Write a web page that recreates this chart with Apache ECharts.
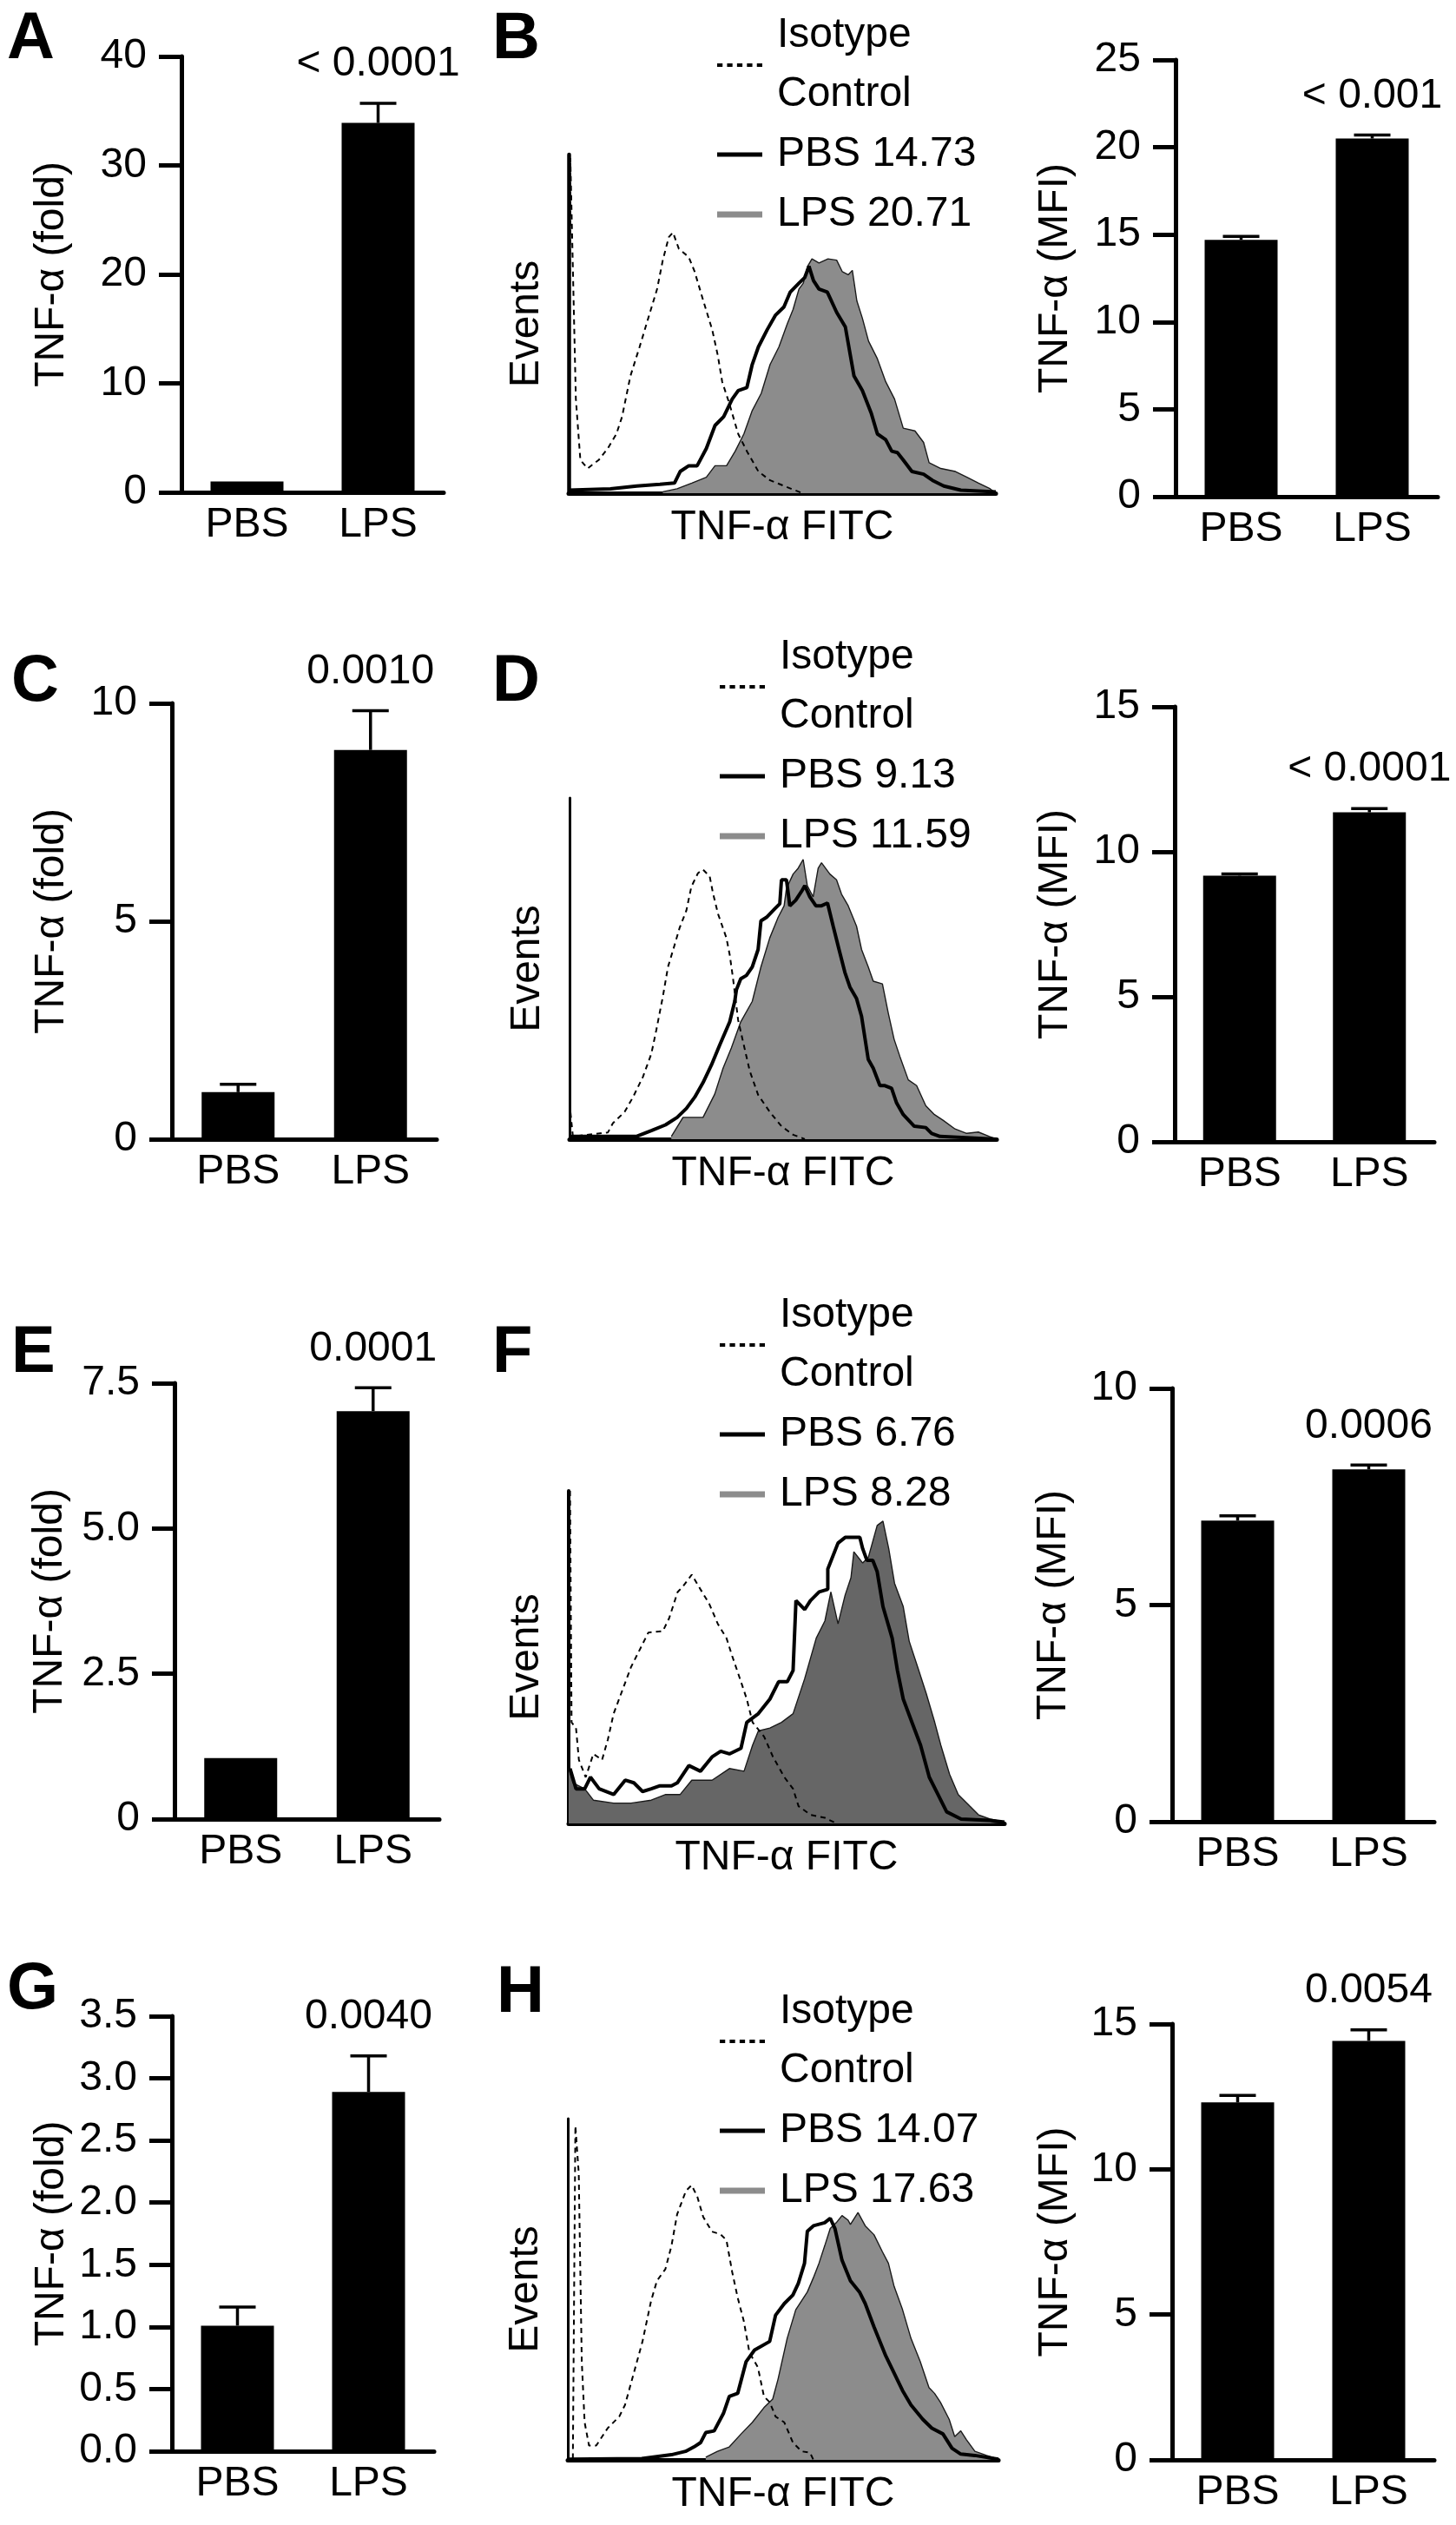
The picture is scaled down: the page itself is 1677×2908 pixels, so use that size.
<!DOCTYPE html>
<html>
<head>
<meta charset="utf-8">
<script src="https://cdn.jsdelivr.net/npm/echarts@6/dist/echarts.min.js"></script>
<style>
html, body { margin: 0; padding: 0; background: #fff; }
#main { width: 1677px; height: 2908px; }
</style>
</head>
<body>
<div id="main"></div>
<script>
var FONT = '"Liberation Sans", Arial, sans-serif';
var categories = ['PBS', 'LPS'];

// fold change panels (A, C, E, G): [PBS, LPS]
var foldA = [1.0, 33.9],  foldAErr = [0, 1.8];
var foldC = [1.08, 8.93], foldCErr = [0.18, 0.9];
var foldE = [1.05, 7.02], foldEErr = [0, 0.4];
var foldG = [1.01, 2.89], foldGErr = [0.15, 0.29];

// MFI panels (B, D, F, H): [PBS, LPS]
var mfiB = [14.7, 20.5],  mfiBErr = [0.2, 0.2];
var mfiD = [9.18, 11.36], mfiDErr = [0.06, 0.13];
var mfiF = [6.95, 8.13],  mfiFErr = [0.11, 0.1];
var mfiH = [12.3, 14.42], mfiHErr = [0.24, 0.38];

var pFold = ['< 0.0001', '0.0010', '0.0001', '0.0040'];
var pMfi = ['< 0.001', '< 0.0001', '0.0006', '0.0054'];

// tick labels
var ticksA = ['0', '10', '20', '30', '40'];
var ticksC = ['0', '5', '10'];
var ticksE = ['0', '2.5', '5.0', '7.5'];
var ticksG = ['0.0', '0.5', '1.0', '1.5', '2.0', '2.5', '3.0', '3.5'];
var ticksB = ['0', '5', '10', '15', '20', '25'];
var ticksD = ['0', '5', '10', '15'];
var ticksF = ['0', '5', '10'];
var ticksH = ['0', '5', '10', '15'];

// legend texts
var legendB = ['Isotype\nControl', 'PBS 14.73', 'LPS 20.71'];
var legendD = ['Isotype\nControl ', 'PBS 9.13', 'LPS 11.59'];
var legendF = ['Isotype\nControl  ', 'PBS 6.76', 'LPS 8.28'];
var legendH = ['Isotype\nControl   ', 'PBS 14.07', 'LPS 17.63'];

// histograms: [channel (0-256), % of max events]
var isoB = [[0,0],[1,99],[4.3,27.8],[7,9.8],[11.3,7.3],[18,9.8],[23.4,13.2],[28.6,17.5],[32,22.6],[37,34.6],[42.5,43.2],[47.7,51.7],[53,60.3],[56.4,68.8],[60,75.6],[62.5,77],[66,72.2],[72,69.7],[75.5,65.4],[80.7,56.8],[86,48.3],[89.4,40.6],[92,32.9],[96,26.9],[101.6,17.5],[106.8,12.4],[113.7,6.4],[120.7,3.8],[129.3,2.1],[138,0.4],[140,0]];
var pbsB = [[0,0.9],[25,1.3],[40.8,2.1],[54.7,2.6],[63.4,3],[66.8,6.4],[72,8.1],[77,8.1],[82.5,13.2],[87.7,20],[92.9,22.6],[98,27.8],[101.6,30.3],[106.8,31.2],[110,38],[113.7,43.2],[119,48.3],[124,52.6],[129,55],[132.8,59.4],[138,62],[141.5,63.7],[144,67],[146.7,62.8],[150,60.3],[155,59.4],[160.6,53.4],[165.8,49.1],[171,34.6],[176,30.3],[181.4,23.5],[185,17.5],[190,15.8],[193.6,12.4],[197,12],[200.5,9.8],[205.7,6.4],[212.7,5.6],[218,3.8],[224.8,2.1],[235,0.9],[256,0.4]];
var lpsB = [[56.4,0.4],[65,1.3],[73.8,3],[82.5,4.7],[87.7,8.1],[94.6,8.1],[99.8,12.4],[105,17.5],[110,24.4],[115.4,29.5],[120.7,38],[126,43.2],[131,50],[134.5,54.3],[138,60.3],[140.6,62],[143.2,67],[145.8,69.2],[150,68],[155.4,69.2],[160.6,68.8],[164,65.4],[167.5,64.5],[170,65.8],[172.7,56.8],[176,51.7],[179.7,44.9],[185,39.7],[190,32.9],[195.3,27.8],[200.5,19.2],[207.5,18.4],[212.7,15],[216,9],[223,7.3],[231.8,6.4],[238.7,4.7],[245.6,3],[252.6,1.3],[256,0]];

var isoD = [[0,10.6],[2,0.8],[23,2],[26,4.7],[33,8],[38,12.3],[44,18.3],[49,25],[52,32],[56,42],[59,50.5],[63,57],[66,62],[70,67],[73,74],[77,78],[80,79],[84,77],[86,72],[89,66],[94,59],[96,54],[98,47],[101,35],[104,28.5],[108,20],[113,13],[120,8],[127,3.8],[134,1.3],[139,0.4],[141,0]];
var pbsD = [[0,0.8],[40,0.8],[49,2.5],[57.5,4.2],[64.5,6.4],[70,9],[75,12.3],[80,16.6],[85,21.7],[90,27.6],[96,34.4],[99,40.4],[100,43.8],[102.6,47],[106,48],[109.5,50.5],[113,55.6],[114.7,64],[118,65],[123,67.5],[126,69],[127,76],[130,76],[132,68.4],[135.5,70],[139,72.6],[141,74.3],[144,71],[147.6,68.4],[151,68.4],[154.6,69.2],[158,62.4],[161.5,55.6],[165,48.9],[168,44.6],[172,41.2],[175,36],[179,23.4],[182,20.8],[186,15.7],[189,15.7],[193,14.9],[196,10.6],[200,7.2],[206.6,3.8],[213.5,3.4],[217,1.7],[222,0.8],[256,0]];
var lpsD = [[61,0.8],[68,6.4],[80,6.4],[87,13.2],[92,20.8],[97,26.8],[102.6,34.4],[109.5,40.4],[114.7,50.5],[120,59],[125,65],[128.6,68.4],[130,73.5],[134,77.7],[137,79.4],[140,82],[142.5,74.3],[146,71],[149,79.4],[151,81],[156,77.7],[160,76],[163,71.8],[167,68.4],[172,62.4],[175,55.6],[179,50.5],[182,46.3],[187.5,45.5],[191,37],[194.5,29.3],[198,24.2],[203,17.4],[208,15.7],[213.5,9.8],[218.7,7.2],[224,5.5],[231,3],[238,1.7],[245,2.1],[251.6,0.8],[256,0]];

var isoF = [[0.8,100],[1.7,30.4],[4.3,28.7],[6,19.1],[10,13.9],[14.5,20.9],[19.6,19.1],[23,25.2],[26.4,33],[31.5,40],[36.6,47],[41.7,52.2],[46.8,57.4],[55.3,57.8],[59,61.7],[64,69.6],[67.2,71.3],[72.3,74.8],[77.4,70.4],[82.5,66.1],[87.6,60],[92.7,55.7],[96,50.4],[101.2,42.6],[104.6,37.4],[108,30.4],[114.8,26.1],[120,20],[126.7,13.9],[131.8,10.4],[135,5.2],[142,2.6],[150.5,1.7],[155.6,0.4],[157,0]];
var pbsF = [[0.8,16.5],[4.3,10.4],[9.4,10.4],[12.8,13.9],[17.9,10.4],[26.4,8.7],[33.2,13],[38.3,12.2],[43.4,9.6],[48.5,10.4],[53.6,11.3],[60.4,11.3],[63.8,12.2],[70.6,17.4],[77.4,15.7],[84.2,20],[89.3,21.7],[94.4,20.9],[101.2,22.6],[104.6,30.4],[111.4,33],[118.2,37.4],[123.3,42.6],[128.4,42.6],[131.8,46],[133.5,67],[138.6,64.3],[142,67],[147.1,69.6],[152.2,70.4],[152.2,76.5],[158.2,84.3],[162.4,86],[171,86],[172.7,82.6],[175.2,79.1],[178.6,79.1],[181.2,75.7],[184.6,65.2],[190,55.7],[193.1,46],[196.5,37.4],[201.6,30.4],[206.7,23.5],[211.8,13.9],[216.9,8.7],[222,3.5],[230.5,1.3],[247.5,0.9],[256,0.4]];
var lpsF = [[0,16.5],[2.5,12.2],[9.4,10.4],[14.5,7],[26.4,6.1],[36.6,6.1],[48.5,7],[57,8.7],[65.5,8.7],[72.3,13],[84.2,13],[94.4,16.5],[103,15.7],[108,23.5],[111.4,27.8],[118.2,28.7],[125,30.4],[131.8,33],[138.6,43.5],[145.4,55.7],[150.5,60.9],[154,69.6],[158.2,60],[162.4,68.7],[165.8,73.9],[167.5,81.7],[172.7,78.3],[176,80],[181.2,89.6],[184.6,90.9],[188,82.6],[191.4,72.2],[196.5,65.2],[200,54.8],[205,47],[210,39.1],[215,30.4],[218.6,23.5],[223.7,14.8],[228.8,8.7],[235.6,5.2],[240.7,2.6],[247.5,1.3],[256,0.4]];

var isoH = [[3,0.4],[4.5,97.9],[6.5,84],[8.3,28.8],[10,11],[12.6,4.2],[16.9,4.2],[23.7,9.3],[30.6,12.7],[34,16.1],[39.2,25.4],[44.4,34.7],[49.5,46.6],[53,52.5],[58,55.9],[61.6,62.7],[65,72],[70.2,78.8],[73.6,80.5],[77,77.1],[80.5,71.2],[85.7,66.9],[90.8,66.1],[94.3,64.4],[97.7,55.1],[101,47.5],[104.6,40.7],[108,31.4],[113,27.1],[116.6,18.6],[120,16.9],[123.5,12.7],[128.7,11],[133.8,5.1],[139,2.5],[144,2.1],[146,0]];
var pbsH = [[0,0.2],[44,0.4],[61.6,1.5],[70,2.5],[75,3.8],[79,5.1],[82,8],[87,8.5],[92.5,13.6],[96,18.6],[101,19.5],[106,28.8],[111,32.2],[120,34.7],[123.5,42.4],[128.7,45.8],[133.8,48.3],[137,51.7],[140.7,57.6],[142.4,67],[146,68.6],[152.7,69.5],[156,70.8],[158.8,67.8],[163,58.5],[168,52.5],[173.4,49.2],[176.8,45.8],[182,39],[189,30.5],[194,25.4],[199,20.3],[204,16.1],[211,11.9],[216.4,9.3],[223,7.6],[228.4,3.4],[233.6,1.7],[242,1.3],[256,0.2]];
var lpsH = [[82,0.8],[89,2.5],[96,3.8],[103,7.6],[109.7,11],[116.6,15.3],[121.8,17.8],[125,23.7],[130.4,35.6],[135.5,44],[142.4,49.2],[146,53.4],[149.3,57.6],[152.7,62.7],[156,67.8],[159.6,69.5],[163,71.6],[166.5,70.3],[168,69],[172.5,72.5],[176.8,68.6],[182,66],[187,61],[190.6,57.6],[194,50.8],[199,44],[204,35.6],[209.5,28.8],[214.7,21.2],[218,19.5],[221.5,16.9],[226.7,11.9],[230,6.8],[233.6,8.5],[237,5.9],[242,2.5],[249,1.3],[256,0.2]];

// legend sample icons
var ICON_DOT = 'path://M0,0H6V4H0ZM11,0H17V4H11ZM22,0H28V4H22ZM33,0H39V4H33ZM44,0H50V4H44Z';
var ICON_PBS = 'path://M0,0H52V5H0Z';
var ICON_LPS = 'path://M0,0H52V7H0Z';

var grids = [], xAxes = [], yAxes = [], series = [], titles = [], legends = [];

function letter(txt, x, y) {
    titles.push({ text: txt, left: x, top: y, padding: 0,
        textStyle: { fontFamily: FONT, fontSize: 76, fontWeight: 'bold', color: '#000' } });
}

function errRenderer(pText) {
    return function (params, api) {
        var i = api.value(0), m = api.value(1), e = api.value(2);
        var p0 = api.coord([i, m]), p1 = api.coord([i, m + e]);
        var st = { stroke: '#000', lineWidth: 3.5 };
        var kids = [];
        if (e > 0) {
            kids.push({ type: 'line', shape: { x1: p0[0], y1: p0[1], x2: p1[0], y2: p1[1] }, style: st });
            kids.push({ type: 'line', shape: { x1: p1[0] - 21, y1: p1[1], x2: p1[0] + 21, y2: p1[1] }, style: st });
        }
        if (i === 1) {
            kids.push({ type: 'text', x: p1[0], y: p1[1] - 21,
                style: { text: pText, fontFamily: FONT, fontSize: 48, fill: '#000', align: 'center', verticalAlign: 'bottom' } });
        }
        return { type: 'group', children: kids };
    };
}

function barPanel(box, vals, errs, ticks, yName, nameGap, pText) {
    var gi = grids.length;
    grids.push({ left: box[0], top: box[1], width: box[2], height: box[3], containLabel: false });
    var step = parseFloat(ticks[1]) - parseFloat(ticks[0]);
    xAxes.push({
        type: 'category', gridIndex: gi, data: categories,
        axisLine: { lineStyle: { color: '#000', width: 5 } },
        axisTick: { show: false },
        axisLabel: { fontFamily: FONT, fontSize: 48, color: '#000', margin: 14, interval: 0 }
    });
    yAxes.push({
        type: 'value', gridIndex: gi, min: 0, max: parseFloat(ticks[ticks.length - 1]), interval: step,
        axisLine: { show: true, lineStyle: { color: '#000', width: 5 } },
        axisTick: { show: true, length: 26, lineStyle: { color: '#000', width: 5 } },
        axisLabel: { fontFamily: FONT, fontSize: 48, color: '#000', margin: 40,
            showMinLabel: true, showMaxLabel: true,
            formatter: function (v) {
                for (var k = 0; k < ticks.length; k++) {
                    if (Math.abs(parseFloat(ticks[k]) - v) < 1e-6) return ticks[k];
                }
                return '';
            } },
        splitLine: { show: false },
        name: yName, nameLocation: 'middle', nameGap: nameGap, nameRotate: 90,
        nameTextStyle: { fontFamily: FONT, fontSize: 48, color: '#000' }
    });
    series.push({
        type: 'bar', xAxisIndex: gi, yAxisIndex: gi, data: vals, barWidth: 84,
        itemStyle: { color: '#000' }, silent: true, z: 2
    });
    series.push({
        type: 'custom', xAxisIndex: gi, yAxisIndex: gi, z: 3, silent: true,
        data: vals.map(function (v, i) { return [i, v, errs[i]]; }),
        encode: { x: 0, y: 1 },
        renderItem: errRenderer(pText)
    });
}

function histPanel(box, iso, pbs, lps, names, fill, yLineW, legendPos) {
    var gi = grids.length;
    grids.push({ left: box[0], top: box[1], width: box[2], height: box[3], containLabel: false });
    xAxes.push({
        type: 'value', gridIndex: gi, min: 0, max: 256,
        axisLine: { show: true, onZero: false, lineStyle: { color: '#000', width: 5 } },
        axisTick: { show: false }, axisLabel: { show: false }, splitLine: { show: false },
        name: 'TNF-α FITC', nameLocation: 'middle', nameGap: 16,
        nameTextStyle: { fontFamily: FONT, fontSize: 48, color: '#000', verticalAlign: 'top' }
    });
    yAxes.push({
        type: 'value', gridIndex: gi, min: 0, max: 100,
        axisLine: { show: true, onZero: false, lineStyle: { color: '#000', width: yLineW } },
        axisTick: { show: false }, axisLabel: { show: false }, splitLine: { show: false },
        name: 'Events', nameLocation: 'middle', nameGap: 24, nameRotate: 90,
        nameTextStyle: { fontFamily: FONT, fontSize: 48, color: '#000' }
    });
    series.push({
        type: 'line', name: names[2], xAxisIndex: gi, yAxisIndex: gi, data: lps,
        symbol: 'none', showSymbol: false, silent: true, z: 2,
        lineStyle: { color: '#1a1a1a', width: 1.4 },
        itemStyle: { color: fill },
        areaStyle: { color: fill, opacity: 1 }
    });
    series.push({
        type: 'line', name: names[1], xAxisIndex: gi, yAxisIndex: gi, data: pbs,
        symbol: 'none', showSymbol: false, silent: true, z: 3,
        lineStyle: { color: '#000', width: 4 }, itemStyle: { color: '#000' }
    });
    series.push({
        type: 'line', name: names[0], xAxisIndex: gi, yAxisIndex: gi, data: iso,
        symbol: 'none', showSymbol: false, silent: true, z: 4,
        lineStyle: { color: '#000', width: 2, type: [6, 5] }, itemStyle: { color: '#000' }
    });
    legends.push({
        orient: 'vertical', left: legendPos[0], top: legendPos[1], padding: 0,
        itemWidth: 52, itemHeight: 20, itemGap: 1, selectedMode: false,
        symbolKeepAspect: true,
        textStyle: { fontFamily: FONT, fontSize: 48, lineHeight: 68, color: '#000', padding: [0, 0, 0, 12] },
        data: [
            { name: names[0], icon: ICON_DOT, itemStyle: { color: '#000' } },
            { name: names[1], icon: ICON_PBS, itemStyle: { color: '#000' } },
            { name: names[2], icon: ICON_LPS, itemStyle: { color: '#8c8c8c' } }
        ]
    });
}

// row 1
letter('A', 8, 8);
letter('B', 567, 8);
barPanel([209, 65, 302, 502], foldA, foldAErr, ticksA, 'TNF-α (fold)', 125, pFold[0]);
histPanel([655, 178, 492, 390], isoB, pbsB, lpsB, legendB, '#8c8c8c', 4.5, [826, 7]);
barPanel([1354, 69, 302, 503], mfiB, mfiBErr, ticksB, 'TNF-α (MFI)', 114, pMfi[0]);

// row 2
letter('C', 13, 748);
letter('D', 567, 748);
barPanel([198, 810, 305, 502], foldC, foldCErr, ticksC, 'TNF-α (fold)', 114, pFold[1]);
histPanel([656, 919, 492, 393], isoD, pbsD, lpsD, legendD, '#8c8c8c', 3, [829, 723]);
barPanel([1353, 814, 299, 501], mfiD, mfiDErr, ticksD, 'TNF-α (MFI)', 113, pMfi[1]);

// row 3
letter('E', 13, 1521);
letter('F', 567, 1521);
barPanel([201, 1593, 305, 502], foldE, foldEErr, ticksE, 'TNF-α (fold)', 119, pFold[2]);
histPanel([655, 1717, 502, 383], isoF, pbsF, lpsF, legendF, '#666666', 4, [829, 1481]);
barPanel([1350, 1599, 302, 499], mfiF, mfiFErr, ticksF, 'TNF-α (MFI)', 112, pMfi[2]);

// row 4
letter('G', 8, 2254);
letter('H', 572, 2258);
barPanel([198, 2322, 302, 501], foldG, foldGErr, ticksG, 'TNF-α (fold)', 114, pFold[3]);
histPanel([654, 2440, 496, 393], isoH, pbsH, lpsH, legendH, '#8c8c8c', 3, [829, 2283]);
barPanel([1350, 2331, 302, 502], mfiH, mfiHErr, ticksH, 'TNF-α (MFI)', 110, pMfi[3]);

var chart = echarts.init(document.getElementById('main'), null, { renderer: 'canvas' });
chart.setOption({
    backgroundColor: '#fff',
    animation: false,
    title: titles,
    legend: legends,
    grid: grids,
    xAxis: xAxes,
    yAxis: yAxes,
    series: series
});
</script>
</body>
</html>
